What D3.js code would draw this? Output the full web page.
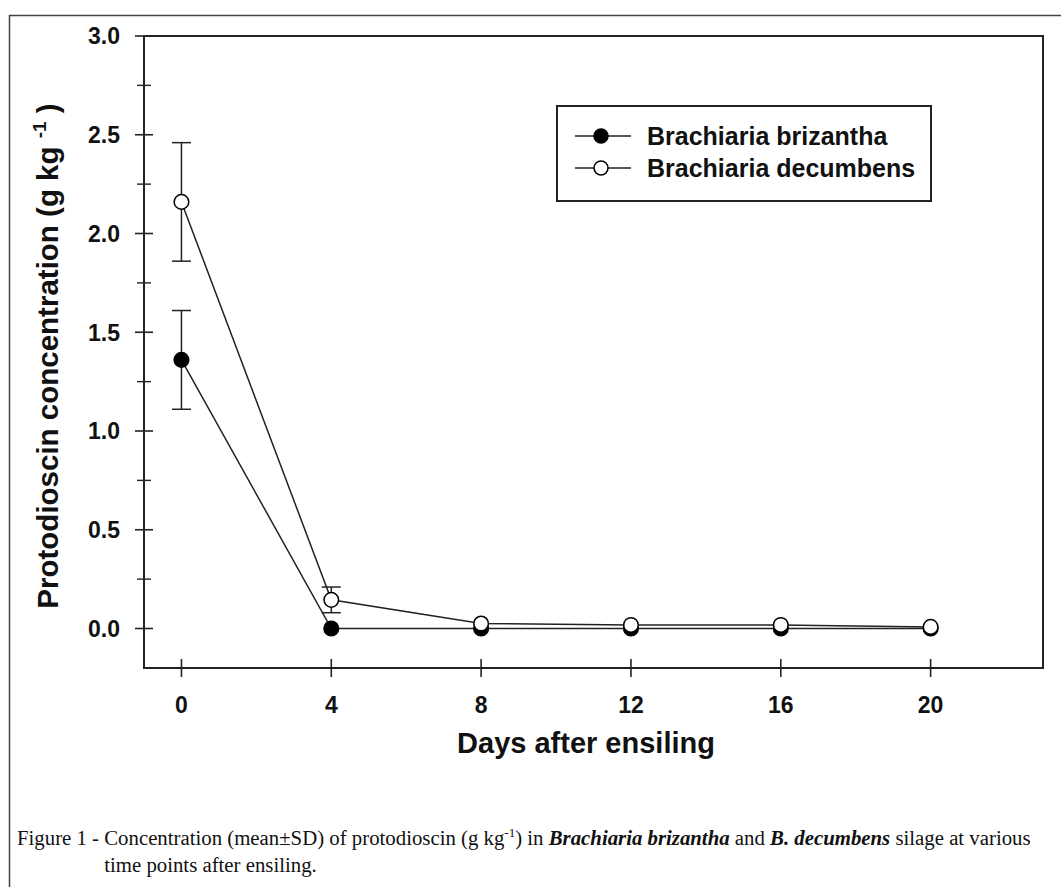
<!DOCTYPE html>
<html><head><meta charset="utf-8">
<script src="https://cdn.jsdelivr.net/npm/d3@7"></script>
<style>body{margin:0;background:#fff}svg{display:block}</style>
</head><body>
<svg id="c" width="1061" height="887"></svg>
<script>
const days = [0, 4, 8, 12, 16, 20];
const brizantha = [1.36, 0.0, 0.0, 0.0, 0.0, 0.0];
const brizanthaSD = [0.25, 0, 0, 0, 0, 0];
const decumbens = [2.16, 0.145, 0.025, 0.018, 0.018, 0.008];
const decumbensSD = [0.30, 0.065, 0, 0, 0, 0];
const xTicks = [0, 4, 8, 12, 16, 20];
const yTicks = [0.0, 0.5, 1.0, 1.5, 2.0, 2.5, 3.0];
const yMinor = [-0.25, 0.25, 0.75, 1.25, 1.75, 2.25, 2.75];
const seriesNames = ["Brachiaria brizantha", "Brachiaria decumbens"];

const sans = "Liberation Sans, Arial, sans-serif";
const serif = "Liberation Serif, Times New Roman, serif";
const svg = d3.select("#c");
// outer frame
svg.append("rect").attr("x", 9.5).attr("y", 15.5).attr("width", 1100).attr("height", 1000)
  .attr("fill", "none").attr("stroke", "#444").attr("stroke-width", 1.5);

const L = 144, R = 1043, T = 36, B = 668;
const x = d3.scaleLinear().domain([-1, 23]).range([L, R]);
const y = d3.scaleLinear().domain([-0.2, 3.0]).range([B, T]);
const ink = "#222";

// plot box
svg.append("rect").attr("x", L).attr("y", T).attr("width", R - L).attr("height", B - T)
  .attr("fill", "none").attr("stroke", ink).attr("stroke-width", 2);

// y axis ticks
const yAx = svg.append("g").attr("transform", `translate(${L},0)`);
yAx.selectAll("line.maj").data(yTicks).join("line").attr("class", "maj")
  .attr("x1", -9).attr("x2", 9).attr("y1", d => y(d)).attr("y2", d => y(d))
  .attr("stroke", ink).attr("stroke-width", 1.6);
yAx.selectAll("line.min").data(yMinor.filter(v => y(v) < B)).join("line").attr("class", "min")
  .attr("x1", -7).attr("x2", 7).attr("y1", d => y(d)).attr("y2", d => y(d))
  .attr("stroke", ink).attr("stroke-width", 1.4);
yAx.selectAll("text").data(yTicks).join("text")
  .attr("x", -24).attr("y", d => y(d)).attr("dy", "0.36em")
  .attr("text-anchor", "end").attr("font-family", sans)
  .attr("font-weight", "bold").attr("font-size", 23).attr("fill", "#111")
  .text(d => d3.format(".1f")(d));

// x axis ticks
const xAx = svg.append("g").attr("transform", `translate(0,${B})`);
xAx.selectAll("line").data(xTicks).join("line")
  .attr("x1", d => x(d)).attr("x2", d => x(d)).attr("y1", -9).attr("y2", 9)
  .attr("stroke", ink).attr("stroke-width", 1.6);
xAx.selectAll("text").data(xTicks).join("text")
  .attr("x", d => x(d)).attr("y", 45)
  .attr("text-anchor", "middle").attr("font-family", sans)
  .attr("font-weight", "bold").attr("font-size", 23).attr("fill", "#111")
  .text(d => d);

// axis titles
svg.append("text").attr("x", 586).attr("y", 753).attr("text-anchor", "middle")
  .attr("font-family", sans).attr("font-weight", "bold")
  .attr("font-size", 29).attr("fill", "#111").text("Days after ensiling");

const yt = svg.append("text").attr("transform", "translate(58,356) rotate(-90)")
  .attr("text-anchor", "middle")
  .attr("font-family", sans).attr("font-weight", "bold")
  .attr("font-size", 29.5).attr("fill", "#111");
yt.append("tspan").text("Protodioscin concentration (g kg ");
yt.append("tspan").attr("dy", -12).attr("font-size", 19).text("-1");
yt.append("tspan").attr("dy", 12).text(" )");

// series
const line = d3.line().x((d, i) => x(days[i])).y(d => y(d));
function drawSeries(vals, sd, filled) {
  const g = svg.append("g");
  g.append("path").datum(vals).attr("d", line).attr("fill", "none")
    .attr("stroke", ink).attr("stroke-width", 1.5);
  const eb = vals.map((v, i) => ({ x: days[i], v, s: sd[i] })).filter(d => d.s > 0);
  eb.forEach(d => {
    g.append("line").attr("x1", x(d.x)).attr("x2", x(d.x)).attr("y1", y(d.v + d.s)).attr("y2", y(d.v - d.s))
      .attr("stroke", ink).attr("stroke-width", 1.5);
    [d.v + d.s, d.v - d.s].forEach(e => g.append("line")
      .attr("x1", x(d.x) - 9.5).attr("x2", x(d.x) + 9.5).attr("y1", y(e)).attr("y2", y(e))
      .attr("stroke", ink).attr("stroke-width", 1.5));
  });
  g.selectAll("circle").data(vals).join("circle")
    .attr("cx", (d, i) => x(days[i])).attr("cy", d => y(d)).attr("r", 7.3)
    .attr("fill", filled ? "#000" : "#fff").attr("stroke", "#000").attr("stroke-width", 1.5);
}
drawSeries(brizantha, brizanthaSD, true);
drawSeries(decumbens, decumbensSD, false);

// legend
const lg = svg.append("g");
lg.append("rect").attr("x", 557).attr("y", 106).attr("width", 374).attr("height", 95)
  .attr("fill", "#fff").attr("stroke", ink).attr("stroke-width", 2);
seriesNames.forEach((n, i) => {
  const cy = 136 + i * 32;
  lg.append("line").attr("x1", 575).attr("x2", 631).attr("y1", cy).attr("y2", cy)
    .attr("stroke", ink).attr("stroke-width", 1.5);
  lg.append("circle").attr("cx", 601).attr("cy", cy).attr("r", 7)
    .attr("fill", i === 0 ? "#000" : "#fff").attr("stroke", "#000").attr("stroke-width", 1.5);
  lg.append("text").attr("x", 647).attr("y", cy).attr("dy", "0.36em")
    .attr("font-family", sans).attr("font-weight", "bold")
    .attr("font-size", 25).attr("fill", "#111").text(n);
});

// caption
const capSize = 20.8;
const cap = svg.append("text").attr("x", 17).attr("y", 845)
  .attr("font-family", serif).attr("font-size", capSize).attr("fill", "#111");
cap.append("tspan").text("Figure 1 - ");
const conc = cap.append("tspan").text("Concentration (mean±SD) of protodioscin (g kg");
cap.append("tspan").attr("dy", -8).attr("font-size", 13).text("-1");
cap.append("tspan").attr("dy", 8).text(") in ");
cap.append("tspan").attr("font-weight", "bold").attr("font-style", "italic").text("Brachiaria brizantha");
cap.append("tspan").text(" and ");
cap.append("tspan").attr("font-weight", "bold").attr("font-style", "italic").text("B. decumbens");
cap.append("tspan").text(" silage at various");
const indent = conc.node().getStartPositionOfChar(0).x;
svg.append("text").attr("x", indent).attr("y", 872)
  .attr("font-family", serif).attr("font-size", capSize).attr("fill", "#111")
  .text("time points after ensiling.");
</script>
</body></html>
